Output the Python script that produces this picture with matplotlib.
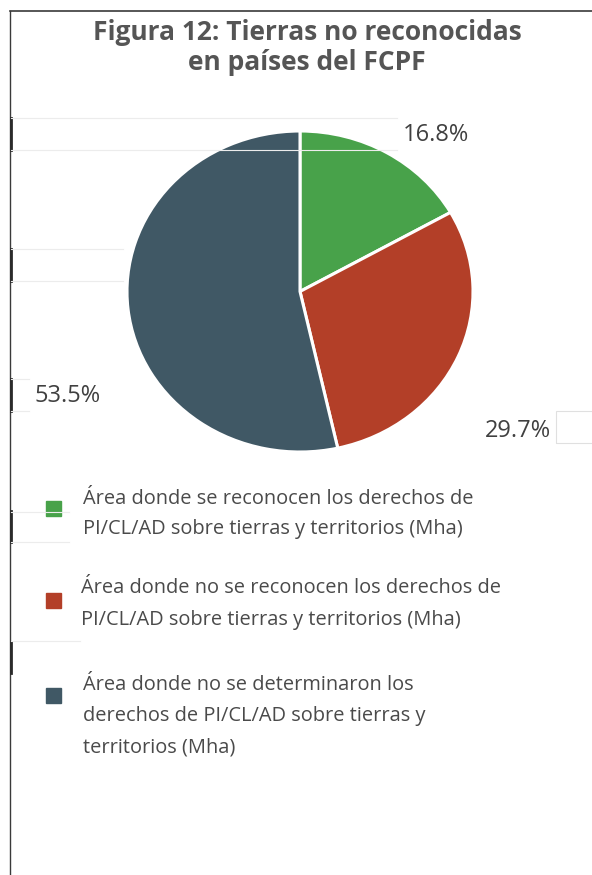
import matplotlib.pyplot as plt
from matplotlib.lines import Line2D
from matplotlib.patches import Rectangle

plt.rcParams["font.family"] = ["Open Sans", "DejaVu Sans"]

W, H = 592, 875

labels = [
    ["Área donde se reconocen los derechos de",
     "PI/CL/AD sobre tierras y territorios (Mha)"],
    ["Área donde no se reconocen los derechos de",
     "PI/CL/AD sobre tierras y territorios (Mha)"],
    ["Área donde no se determinaron los",
     "derechos de PI/CL/AD sobre tierras y",
     "territorios (Mha)"],
]
shares = [16.8, 29.7, 53.5]
colors = ["#48a24a", "#b33f28", "#405865"]
title_lines = ["Figura 12: Tierras no reconocidas", "en países del FCPF"]


def px(x, y):
    # pixel coords (from top-left) -> figure fraction
    return x / W, 1 - y / H


fig = plt.figure(figsize=(W / 100, H / 100), dpi=100)

# frame lines (top rule and left rule)
fig.add_artist(Line2D([10 / W, 1], [1 - 11 / H] * 2, color="#3a3a3a", lw=1.2))
fig.add_artist(Line2D([10 / W] * 2, [1 - 11 / H, 0], color="#3a3a3a", lw=1.0))
for y0, y1 in [(118, 150), (249, 281), (379, 411), (511, 542), (642, 673)]:
    fig.add_artist(Line2D([10.5 / W] * 2, [1 - y0 / H, 1 - y1 / H], color="#2a2a2a", lw=2.0))
# faint cell borders
for y, x1 in [(118, 397), (150, 397), (249, 123), (281, 123), (379, 29), (411, 29),
              (512, 69), (542, 69), (641, 80)]:
    fig.add_artist(Line2D([11 / W, x1 / W], [1 - y / H] * 2, color="#ececec", lw=0.8))
fig.add_artist(Rectangle(px(556, 443), 40 / W, 32 / H, fill=False, ec="#e0e0e0", lw=0.8))

for y, line in zip([33, 62], title_lines):
    fig.text(*px(307, y), line, ha="center", va="center", fontsize=19,
             fontweight="bold", color="#555555")

# pie, slightly wider than tall like the source
ax = fig.add_axes([127 / W, 1 - 452 / H, 346 / W, 321 / H])
ax.pie(shares, colors=colors, startangle=90, counterclock=False,
       wedgeprops=dict(edgecolor="white", linewidth=2.2))
ax.set_aspect("auto")
ax.set_xlim(-1, 1)
ax.set_ylim(-1, 1)

label_pos = [(436, 135), (518, 431), (68, 396)]
for (x, y), v in zip(label_pos, shares):
    fig.text(*px(x, y), f"{v}%", ha="center", va="center", fontsize=17, color="#404040")

# legend
sq = 15
square_y = [508, 600, 695]
text_x = [83, 81, 83]
text_y = [[499, 529], [588, 620], [685, 716, 747]]
for ys, tx, tys, lines, c in zip(square_y, text_x, text_y, labels, colors):
    fig.add_artist(Rectangle(px(46, ys + sq / 2), sq / W, sq / H, color=c))
    for ty, line in zip(tys, lines):
        fig.text(*px(tx, ty), line, ha="left", va="center", fontsize=14.4, color="#4a4a4a")

fig.savefig("out.png", dpi=100)
